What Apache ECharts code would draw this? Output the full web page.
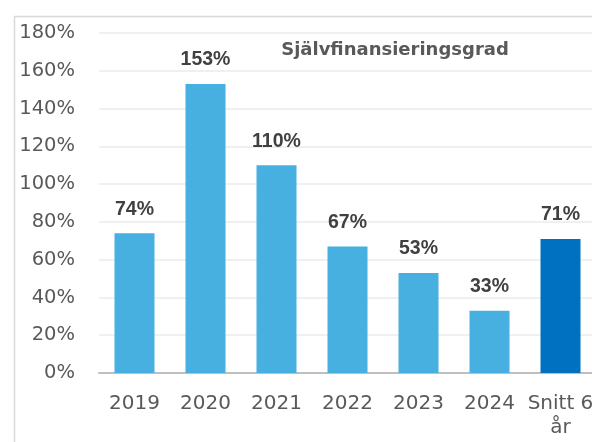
<!DOCTYPE html>
<html>
<head>
<meta charset="utf-8">
<script src="https://cdn.jsdelivr.net/npm/echarts@6/dist/echarts.min.js"></script>
<style>html,body{margin:0;padding:0;background:#fff}#c{width:592px;height:442px}</style>
</head>
<body>
<div id="c"></div>
<script>
var categories = ['2019', '2020', '2021', '2022', '2023', '2024', 'Snitt 6\når'];
var values = [74, 153, 110, 67, 53, 33, 71];
var barColors = ['#47B0E0', '#47B0E0', '#47B0E0', '#47B0E0', '#47B0E0', '#47B0E0', '#0070C0'];
var chartTitle = 'Självfinansieringsgrad';

var chart = echarts.init(document.getElementById('c'), null, {renderer: 'canvas'});
chart.setOption({
  animation: false,
  backgroundColor: '#fff',
  title: {
    text: chartTitle,
    left: 390, top: 36,
    textAlign: 'center',
    textStyle: {fontFamily: 'DejaVu Sans', fontWeight: 'bold', fontSize: 18, color: '#595959'}
  },
  graphic: [{
    type: 'rect', left: 12, top: 14, z: -1,
    shape: {width: 700, height: 500},
    style: {fill: 'none', stroke: '#D9D9D9', lineWidth: 1.5}
  }],
  grid: {left: 99, width: 497, top: 33, height: 340, containLabel: false, outerBoundsMode: 'none'},
  xAxis: {
    type: 'category',
    data: categories,
    axisTick: {show: false},
    axisLine: {lineStyle: {color: '#BFBFBF', width: 2}},
    axisLabel: {color: '#595959', fontFamily: 'DejaVu Sans', fontSize: 20, margin: 19, lineHeight: 24, interval: 0, hideOverlap: false}
  },
  yAxis: {
    type: 'value', min: 0, max: 180, interval: 20,
    axisLine: {show: false}, axisTick: {show: false},
    splitLine: {lineStyle: {color: '#EBEBEB', width: 1.5}},
    axisLabel: {color: '#595959', fontFamily: 'DejaVu Sans', fontSize: 19.5, margin: 24, formatter: '{value}%'}
  },
  series: [{
    type: 'bar',
    data: values.map(function (v, i) { return {value: v, itemStyle: {color: barColors[i]}}; }),
    barWidth: 40,
    label: {
      show: true, position: 'top', distance: 14,
      formatter: '{c}%',
      color: '#404040', fontFamily: 'Liberation Sans', fontWeight: 'bold', fontSize: 19.5
    }
  }]
});
</script>
</body>
</html>
